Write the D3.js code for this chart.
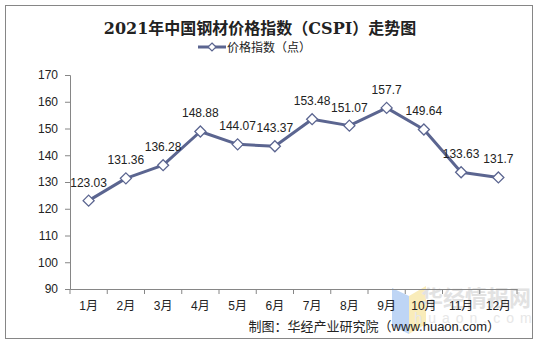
<!DOCTYPE html>
<html><head><meta charset="utf-8">
<script src="https://cdn.jsdelivr.net/npm/d3@7/dist/d3.min.js"></script>
<style>body{margin:0;background:#fff}svg{display:block}</style>
</head><body>
<svg id="c" width="541" height="344"></svg>
<script>
const months = ["1月","2月","3月","4月","5月","6月","7月","8月","9月","10月","11月","12月"];
const values = [123.03,131.36,136.28,148.88,144.07,143.37,153.48,151.07,157.7,149.64,133.63,131.7];
const yTicks = [90,100,110,120,130,140,150,160,170];
const title = "2021年中国钢材价格指数（CSPI）走势图";
const seriesName = "价格指数（点）";
const source = "制图：华经产业研究院（www.huaon.com）";

const svg = d3.select("#c");
const sans = "'Liberation Sans', Arial, 'Noto Sans CJK SC', sans-serif";
const color = "#5b6590";
const axisColor = "#868686";

svg.append("rect").attr("x",5.5).attr("y",5.5).attr("width",527).attr("height",333)
  .attr("fill","#fff").attr("stroke","#868686").attr("stroke-width",1);

const x = d3.scaleBand().domain(months).range([70,517]);
const y = d3.scaleLinear().domain([90,170]).range([289,75]);

// watermark
const wm = svg.append("g").attr("opacity",0.75);
wm.append("path").attr("d","M392,288 L409,296 L409,334 L392,326 Z").attr("fill","#a9c8f2");
wm.append("path").attr("d","M409,296 L426,286 L426,324 L409,334 Z").attr("fill","#f8e6a4");
wm.append("text").attr("x",476).attr("y",306).attr("text-anchor","middle")
  .attr("font-family","'Noto Sans CJK SC', sans-serif").attr("font-weight",700).attr("font-size",22)
  .attr("fill","#d9d9d9").text("华经情报网");
wm.append("text").attr("x",476).attr("y",323).attr("text-anchor","middle")
  .attr("font-family",sans).attr("font-size",14).attr("letter-spacing",6)
  .attr("fill","#e0e0e0").text("huaon.com");

// y axis
const yAxis = svg.append("g").attr("transform","translate(70,0)")
  .call(d3.axisLeft(y).tickValues(yTicks).tickSize(5).tickPadding(7).tickFormat(d3.format("d")));
yAxis.select(".domain").attr("stroke",axisColor);
yAxis.selectAll(".tick line").attr("stroke",axisColor);
yAxis.selectAll("text").attr("font-family",sans).attr("font-size",12).attr("fill","#222");

// x axis
const xAxis = svg.append("g").attr("transform","translate(0,289)")
  .call(d3.axisBottom(x).tickSize(0).tickPadding(12));
xAxis.select(".domain").attr("stroke",axisColor);
xAxis.selectAll("text").attr("font-family",sans).attr("font-size",12).attr("fill","#222");
const edges = months.map(m=>x(m)).concat([x.range()[1]]);
xAxis.selectAll(".sep").data(edges).enter().append("line")
  .attr("x1",d=>d).attr("x2",d=>d).attr("y1",0).attr("y2",5).attr("stroke",axisColor);

const cx = m => x(m) + x.bandwidth()/2;
const line = d3.line().x((d,i)=>cx(months[i])).y(d=>y(d));
svg.append("path").datum(values).attr("d",line).attr("fill","none")
  .attr("stroke",color).attr("stroke-width",3).attr("stroke-linejoin","round");

const diamond = "M0,-5.5 L5.5,0 L0,5.5 L-5.5,0 Z";
svg.selectAll(".pt").data(values).enter().append("path")
  .attr("transform",(d,i)=>`translate(${cx(months[i])},${y(d)})`)
  .attr("d",diamond).attr("fill","#fff").attr("stroke",color).attr("stroke-width",1.3);

svg.selectAll(".lbl").data(values).enter().append("text")
  .attr("x",(d,i)=>cx(months[i])).attr("y",d=>y(d)-14)
  .attr("text-anchor","middle").attr("font-family",sans).attr("font-size",12).attr("fill","#222")
  .text(d=>String(d));

// title
svg.append("text").attr("x",260).attr("y",34).attr("text-anchor","middle")
  .attr("font-family","'DejaVu Serif', 'Noto Sans CJK SC', serif").attr("font-weight",700)
  .attr("font-size",16).attr("fill","#222").text(title);

// legend
svg.append("line").attr("x1",198).attr("x2",226).attr("y1",47).attr("y2",47)
  .attr("stroke",color).attr("stroke-width",3);
svg.append("path").attr("transform","translate(212,47)").attr("d","M0,-4 L4,0 L0,4 L-4,0 Z")
  .attr("fill","#fff").attr("stroke",color).attr("stroke-width",1.2);
svg.append("text").attr("x",227).attr("y",51.5).attr("font-family","'Noto Sans CJK SC', sans-serif")
  .attr("font-size",12).attr("fill","#222").text(seriesName);

// source
svg.append("text").attr("x",500).attr("y",331).attr("text-anchor","end")
  .attr("font-family",sans).attr("font-size",13).attr("fill","#222").text(source);
</script>
</body></html>
